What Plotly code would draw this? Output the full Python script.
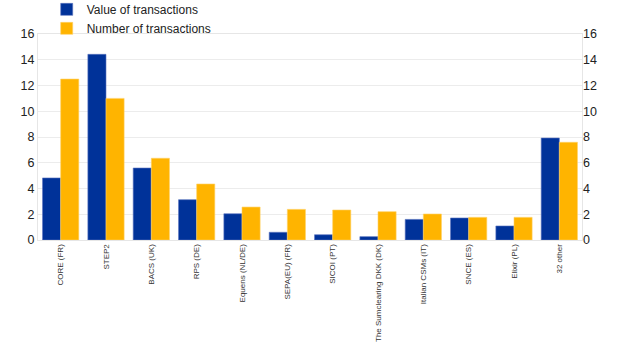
import plotly.graph_objects as go

categories = ["CORE (FR)", "STEP2", "BACS (UK)", "RPS (DE)", "Equens (NL/DE)", "SEPA(EU) (FR)",
              "SICOI (PT)", "The Sumclearing DKK (DK)", "Italian CSMs (IT)", "SNCE (ES)",
              "Elixir (PL)", "32 other"]
value_of_transactions = [4.82, 14.42, 5.59, 3.13, 2.04, 0.60, 0.41, 0.26, 1.60, 1.71, 1.09, 7.92]
number_of_transactions = [12.5, 11.0, 6.35, 4.35, 2.56, 2.38, 2.33, 2.20, 2.02, 1.76, 1.76, 7.59]
y_ticks = [0, 2, 4, 6, 8, 10, 12, 14, 16]

BLUE = "#003299"
YELLOW = "#FFB400"

fig = go.Figure()
fig.add_trace(go.Bar(x=categories, y=value_of_transactions, name="Value of transactions",
                     marker=dict(color=BLUE, line=dict(color="#5a74c0", width=0.6))))
fig.add_trace(go.Bar(x=categories, y=number_of_transactions, name="Number of transactions",
                     marker=dict(color=YELLOW, line=dict(color="#ffd166", width=0.6))))
# invisible helper on right axis so it is drawn
fig.add_trace(go.Scatter(x=categories, y=value_of_transactions, yaxis="y2", mode="lines",
                         line=dict(width=0), opacity=0, showlegend=False, hoverinfo="skip"))

fig.update_layout(
    width=620, height=354,
    margin=dict(l=38, r=38, t=34, b=114, autoexpand=False),
    paper_bgcolor="white", plot_bgcolor="white",
    barmode="group", bargap=0.2, bargroupgap=0,
    font=dict(family="Liberation Sans, Arial, sans-serif", color="#222"),
    legend=dict(x=0.016, y=1.19, xanchor="left", yanchor="top",
                font=dict(size=12, color="#222"), bgcolor="rgba(0,0,0,0)",
                tracegroupgap=0, itemwidth=30),
    xaxis=dict(range=[-0.5, len(categories) - 0.5], tickangle=-90,
               tickfont=dict(size=8, color="#333"),
               showline=True, linecolor="#e6e6e6", mirror=True, ticks="",
               showgrid=False),
    yaxis=dict(range=[0, 16], tickvals=y_ticks, tickfont=dict(size=12.5, color="#222"),
               showgrid=True, gridcolor="#ececec", showline=True, linecolor="#e6e6e6",
               mirror=True, zeroline=False, ticks=""),
    yaxis2=dict(range=[0, 16], tickvals=y_ticks, tickfont=dict(size=12.5, color="#222"),
                overlaying="y", side="right", showgrid=False, zeroline=False,
                showline=False, ticks=""),
)

fig.write_html("out.html")
